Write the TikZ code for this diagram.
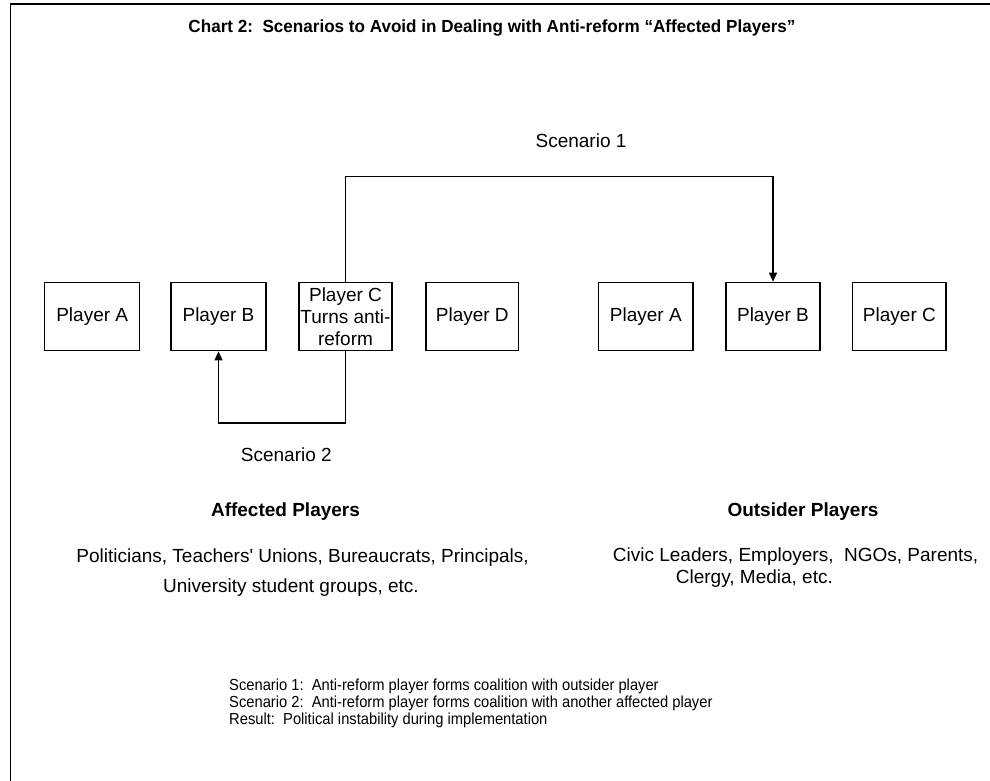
\documentclass[tikz,border=0pt]{standalone}
\usepackage{fontspec}
\setmainfont{Liberation Sans}
\usetikzlibrary{arrows.meta}
\begin{document}
\begin{tikzpicture}[x=1pt,y=-1pt,
  box/.style={draw, line width=1.3pt, inner sep=0pt, align=center,
    minimum height=68.4pt, font=\fontsize{19}{22.2}\selectfont},
  lbl/.style={inner sep=0pt, font=\fontsize{19}{22}\selectfont},
  head/.style={inner sep=0pt, font=\fontsize{19}{22}\selectfont\bfseries},
  desc/.style={inner sep=0pt, font=\fontsize{19}{22}\selectfont},
  foot/.style={inner sep=0pt, anchor=west, font=\fontsize{16}{18}\selectfont},
  conn/.style={line width=1.2pt},
  arr/.style={conn, -{Triangle[length=9pt,width=8pt]}}]
\useasboundingbox (0,0) rectangle (990,780);
\clip (0,0) rectangle (990,780);
\draw[line width=1.6pt] (10.5,800) -- (10.5,4) -- (1000,4);

\node[font=\fontsize{17.5}{20}\selectfont\bfseries, inner sep=0pt] (title) at (492,28)
  {\resizebox{607pt}{\height}{Chart 2:\ \ Scenarios to Avoid in Dealing with Anti-reform “Affected Players”}};

\node[box, minimum width=95pt] (pa) at (92.2,316.5) {Player A};
\node[box, minimum width=95pt] (pb) at (218.5,316.5) {Player B};
\node[box, minimum width=93pt] (pc) at (345.5,316.5) {Player C\\Turns anti-\\reform};
\node[box, minimum width=92.5pt] (pd) at (472.3,316.5) {Player D};
\node[box, minimum width=94.5pt] (oa) at (645.8,316.5) {Player A};
\node[box, minimum width=94pt] (ob) at (773,316.5) {Player B};
\node[box, minimum width=93.3pt] (oc) at (899.4,316.5) {Player C};

\coordinate (t1) at (345.5,176.3);
\coordinate (t2) at (345.5,423);
\draw[arr] (pc.north) -- (t1) -| (ob.north);
\draw[arr] (pc.south) -- (t2) -| (pb.south);

\node[lbl] (s1) at (581,141) {Scenario 1};
\node[lbl, anchor=west] (s2) at (240.7,455) {Scenario 2};

\node[head] (ah) at (285.5,512) {Affected Players};
\node[head] (oh) at (803,512) {Outsider Players};

\node[desc, anchor=east] (ad1) at (529,558) {Politicians, Teachers\textquotesingle\ Unions, Bureaucrats, Principals,};
\node[desc, anchor=west] (ad2) at (163,588) {University student groups, etc.};
\node[desc, anchor=west] (od1) at (612.7,557) {Civic Leaders, Employers,\ \ NGOs, Parents,};
\node[desc, anchor=west] (od2) at (675.7,578.5) {Clergy, Media, etc.};

\node[foot] (f1) at (229,686) {\scalebox{0.92}[1]{Scenario 1:\ \ Anti-reform player forms coalition with outsider player}};
\node[foot] (f2) at (229,703) {\scalebox{0.92}[1]{Scenario 2:\ \ Anti-reform player forms coalition with another affected player}};
\node[foot] (f3) at (229,720) {\scalebox{0.92}[1]{Result:\ \ Political instability during implementation}};
\end{tikzpicture}
\end{document}
